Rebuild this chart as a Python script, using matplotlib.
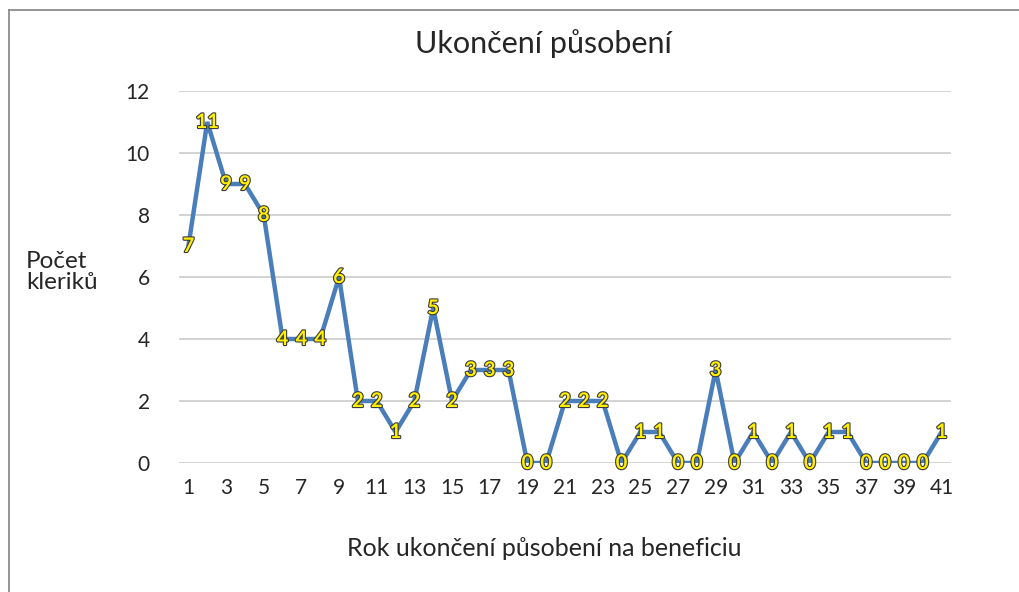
import matplotlib
matplotlib.use("Agg")
import matplotlib.pyplot as plt
import matplotlib.patheffects as pe
from matplotlib.lines import Line2D

plt.rcParams['font.family'] = ['Lato', 'DejaVu Sans']

years = list(range(1, 42))
counts = [7, 11, 9, 9, 8, 4, 4, 4, 6, 2, 2, 1, 2, 5, 2, 3, 3, 3, 0, 0,
          2, 2, 2, 0, 1, 1, 0, 0, 3, 0, 1, 0, 1, 0, 1, 1, 0, 0, 0, 0, 1]
yticks = [0, 2, 4, 6, 8, 10, 12]
xticks = list(range(1, 42, 2))
title = "Ukončení působení"
xlabel = "Rok ukončení působení na beneficiu"
ylabel = "Počet\nkleriků"

W, H = 1020, 592
fig = plt.figure(figsize=(W / 100, H / 100), dpi=100)
ax = fig.add_axes([179 / W, 1 - 463 / H, (951 - 179) / W, (463 - 91) / H])

ax.plot(years, counts, color='#4A7EBB', lw=3.2, solid_joinstyle='miter', zorder=3)
for x, y in zip(years, counts):
    ax.text(x, y, str(y), ha='center', va='center', fontsize=14.5, fontweight='bold',
            color='#FFEF00', zorder=4, clip_on=False,
            path_effects=[pe.withStroke(linewidth=1.6, foreground='#3A3A3A')])

ax.set_xlim(0.5, 41.5)
ax.set_ylim(0, 12)
ax.set_yticks(yticks)
ax.set_xticks(xticks)
ax.tick_params(axis='both', length=0, labelsize=15, labelcolor='#262626')
ax.tick_params(axis='x', pad=11)
ax.tick_params(axis='y', pad=21)
ax.grid(axis='y', color='#D0D0D0', lw=1.3, zorder=0)
ax.set_axisbelow(True)
for s in ax.spines.values():
    s.set_visible(False)

fig.text(543 / W, 1 - 44 / H, title, ha='center', va='center', fontsize=22, color='#262626')
fig.text(544 / W, 1 - 549 / H, xlabel, ha='center', va='center', fontsize=18, color='#262626')
fig.text(26 / W, 1 - 272 / H, ylabel, ha='left', va='center', fontsize=17.5, color='#262626',
         linespacing=1.05)

# chart frame
fig.add_artist(Line2D([9.5 / W, 1], [1 - 9.5 / H, 1 - 9.5 / H], color='#8C8C8C', lw=1.3,
                      transform=fig.transFigure))
fig.add_artist(Line2D([9.5 / W, 9.5 / W], [0, 1 - 9.5 / H], color='#8C8C8C', lw=1.3,
                      transform=fig.transFigure))

fig.savefig('out.png', dpi=100, facecolor='white')
